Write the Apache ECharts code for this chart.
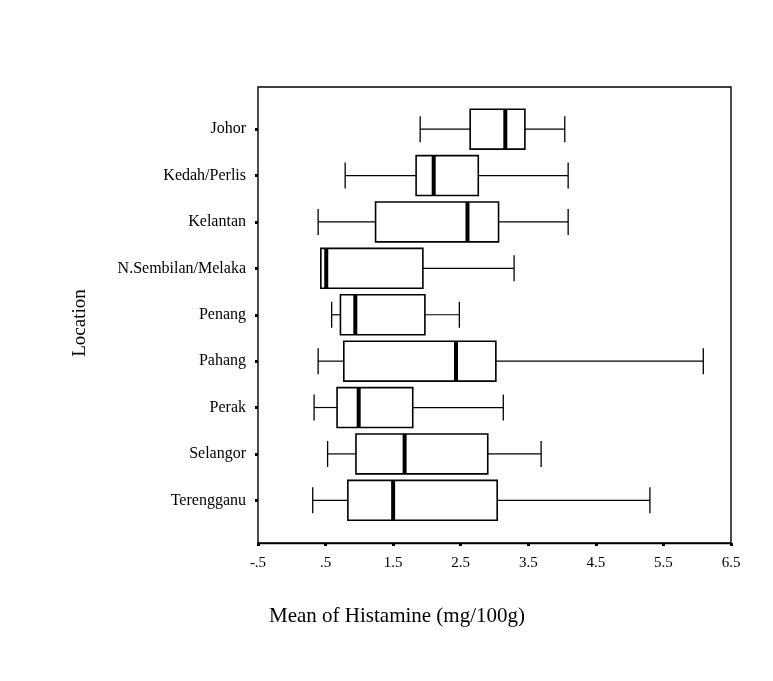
<!DOCTYPE html>
<html>
<head>
<meta charset="utf-8">
<script src="https://cdn.jsdelivr.net/npm/echarts@6/dist/echarts.min.js"></script>
<style>html,body{margin:0;padding:0;background:#fff}#c{width:773px;height:681px}</style>
</head>
<body>
<div id="c"></div>
<script>
const categories = ['Johor','Kedah/Perlis','Kelantan','N.Sembilan/Melaka','Penang','Pahang','Perak','Selangor','Terengganu'];
const mins    = [1.90, 0.79, 0.39, 0.43, 0.59, 0.39, 0.33, 0.53, 0.31];
const q1s     = [2.64, 1.84, 1.24, 0.43, 0.72, 0.77, 0.67, 0.95, 0.83];
const medians = [3.16, 2.10, 2.60, 0.51, 0.94, 2.43, 0.99, 1.67, 1.50];
const q3s     = [3.45, 2.76, 3.06, 1.94, 1.97, 3.02, 1.79, 2.90, 3.04];
const maxs    = [4.04, 4.09, 4.09, 3.29, 2.48, 6.09, 3.13, 3.69, 5.30];
const xTickLabels = ['-.5','.5','1.5','2.5','3.5','4.5','5.5','6.5'];

const data = categories.map((c, i) => [i, mins[i], q1s[i], medians[i], q3s[i], maxs[i]]);
const FONT = 'Liberation Serif';

const chart = echarts.init(document.getElementById('c'), null, {renderer: 'canvas'});
chart.setOption({
  backgroundColor: '#fff',
  animation: false,
  title: {
    text: 'Mean of Histamine (mg/100g)',
    left: 264, top: 601,
    textStyle: {fontFamily: FONT, fontSize: 21, fontWeight: 'normal', color: '#000'}
  },
  graphic: [{
    type: 'text',
    x: 80, y: 323,
    rotation: Math.PI / 2,
    style: {
      text: 'Location', fontFamily: FONT, fontSize: 19, fill: '#000',
      align: 'center', verticalAlign: 'middle'
    }
  }],
  grid: [
    {left: 258, right: 42, top: 87, bottom: 138, show: true, borderColor: '#000', borderWidth: 1.4, backgroundColor: 'transparent'},
    {left: 258, right: 42, top: 106, bottom: 157.5}
  ],
  xAxis: [
    {
      gridIndex: 0, type: 'value', min: -0.5, max: 6.5, interval: 1,
      axisLine: {show: true, lineStyle: {color: '#000', width: 1.4}},
      axisTick: {show: true, length: 3, lineStyle: {color: '#000', width: 3}},
      splitLine: {show: false},
      axisLabel: {
        margin: 13, color: '#000', fontFamily: FONT, fontSize: 15,
        formatter: (v) => xTickLabels[Math.round(v + 0.5)]
      }
    },
    {
      gridIndex: 1, type: 'value', min: -0.5, max: 6.5, show: false
    }
  ],
  yAxis: [
    {gridIndex: 0, type: 'value', show: false},
    {
      gridIndex: 1, type: 'category', data: categories, inverse: true,
      axisLine: {show: false, onZero: false},
      axisTick: {show: true, alignWithLabel: true, length: 3, lineStyle: {color: '#000', width: 3}},
      axisLabel: {margin: 12, color: '#000', fontFamily: FONT, fontSize: 16}
    }
  ],
  series: [{
    type: 'custom',
    xAxisIndex: 1, yAxisIndex: 1,
    data: data,
    encode: {x: [1, 2, 3, 4, 5], y: 0},
    renderItem: function (params, api) {
      const ci = api.value(0);
      const band = api.size([0, 1])[1];
      const pMin = api.coord([api.value(1), ci]);
      const pQ1 = api.coord([api.value(2), ci]);
      const pMed = api.coord([api.value(3), ci]);
      const pQ3 = api.coord([api.value(4), ci]);
      const pMax = api.coord([api.value(5), ci]);
      const cy = pQ1[1];
      const bh = band * 0.86;
      const ch = band * 0.56;
      const children = [
        {type: 'line', shape: {x1: pMin[0], y1: cy, x2: pQ1[0], y2: cy}, style: {stroke: '#000', lineWidth: 1.2}},
        {type: 'line', shape: {x1: pQ3[0], y1: cy, x2: pMax[0], y2: cy}, style: {stroke: '#000', lineWidth: 1.2}},
        {type: 'line', shape: {x1: pMin[0], y1: cy - ch / 2, x2: pMin[0], y2: cy + ch / 2}, style: {stroke: '#000', lineWidth: 1.3}},
        {type: 'line', shape: {x1: pMax[0], y1: cy - ch / 2, x2: pMax[0], y2: cy + ch / 2}, style: {stroke: '#000', lineWidth: 1.3}},
        {type: 'rect', shape: {x: pQ1[0], y: cy - bh / 2, width: pQ3[0] - pQ1[0], height: bh}, style: {fill: '#fff', stroke: '#000', lineWidth: 1.6}},
        {type: 'line', shape: {x1: pMed[0], y1: cy - bh / 2, x2: pMed[0], y2: cy + bh / 2}, style: {stroke: '#000', lineWidth: 4}}
      ];
      return {type: 'group', children: children};
    }
  }]
});
</script>
</body>
</html>
